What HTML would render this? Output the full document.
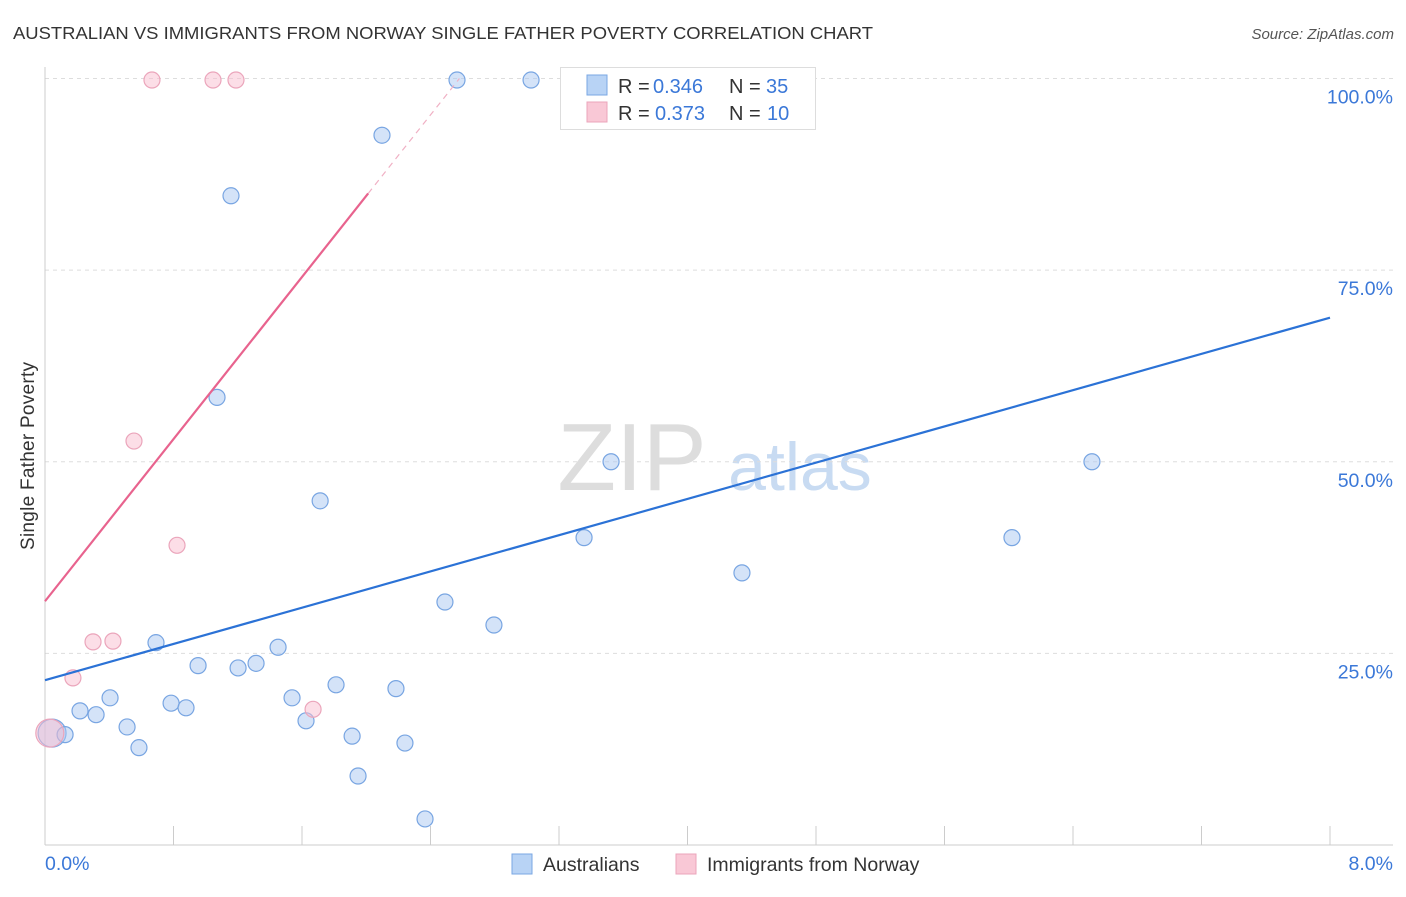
<!DOCTYPE html>
<html><head><meta charset="utf-8"><style>
body{margin:0;background:#fff;font-family:"Liberation Sans",sans-serif;}
svg text{font-family:"Liberation Sans",sans-serif;}
</style></head><body>
<svg id="c" width="1406" height="892" xmlns="http://www.w3.org/2000/svg">
<text x="13" y="39" font-size="17.5" fill="#333" textLength="860" lengthAdjust="spacingAndGlyphs">AUSTRALIAN VS IMMIGRANTS FROM NORWAY SINGLE FATHER POVERTY CORRELATION CHART</text>
<text x="1394" y="39" font-size="15" fill="#555" font-style="italic" text-anchor="end">Source: ZipAtlas.com</text>
<g>
<text x="632" y="490" font-size="96" fill="#ddd" font-family="Liberation Serif" text-anchor="middle">ZIP</text>
<text x="800" y="490" font-size="68" fill="#c8dbf2" text-anchor="middle">atlas</text>
</g>
<g id="grid"></g>
<g id="axes"></g>
<g id="marks"></g>
<g>
<rect x="560.5" y="67.5" width="255" height="62" fill="#fff" stroke="#ddd"/>
<rect x="587" y="75" width="20" height="20" fill="#b8d3f5" stroke="#7aa7e3"/>
<rect x="587" y="102" width="20" height="20" fill="#f9c8d6" stroke="#eba5bb"/>
<text y="93" font-size="20" fill="#333"><tspan x="618">R =</tspan><tspan x="653" fill="#3b78d8">0.346</tspan><tspan x="729">N =</tspan><tspan x="766" fill="#3b78d8">35</tspan></text>
<text y="120" font-size="20" fill="#333"><tspan x="618">R =</tspan><tspan x="655" fill="#3b78d8">0.373</tspan><tspan x="729">N =</tspan><tspan x="767" fill="#3b78d8">10</tspan></text>
</g>
<g>
<rect x="512" y="854" width="20" height="20" fill="#b8d3f5" stroke="#7aa7e3"/>
<text x="543" y="871" font-size="19.5" fill="#333">Australians</text>
<rect x="676" y="854" width="20" height="20" fill="#f9c8d6" stroke="#eba5bb"/>
<text x="707" y="871" font-size="19.5" fill="#333">Immigrants from Norway</text>
</g>
<text transform="translate(34,456) rotate(-90)" font-size="19" fill="#333" text-anchor="middle" textLength="188">Single Father Poverty</text>
</svg>
<script>
const blueX=[0.044,0.125,0.218,0.318,0.405,0.511,0.585,0.691,0.785,0.878,0.953,1.071,1.158,1.202,1.314,1.451,1.538,1.625,1.713,1.812,1.912,1.949,2.098,2.185,2.241,2.366,2.490,2.565,2.795,3.026,3.356,3.524,4.339,6.020,6.518];
const blueY=[14.6,14.4,17.5,17.0,19.2,15.4,12.7,26.4,18.5,17.9,23.4,58.4,84.7,23.1,23.7,25.8,19.2,16.2,44.9,20.9,14.2,9.0,92.6,20.4,13.3,3.4,31.7,99.8,28.7,99.8,40.1,50.0,35.5,40.1,50.0];
const pinkX=[0.03,0.174,0.299,0.423,0.554,0.666,0.822,1.046,1.189,1.669];
const pinkY=[14.6,21.8,26.5,26.6,52.7,99.8,39.1,99.8,99.8,17.7];
const blueLine=[[0,21.5],[8,68.8]];
const pinkLine=[[0,31.8],[2.012,85.0]];
const pinkDash=[[2.012,85.0],[2.58,100]];
const yTicks=[25,50,75,100];
const yTickLabels=["25.0%","50.0%","75.0%","100.0%"];
const xTicks=[0,0.8,1.6,2.4,3.2,4.0,4.8,5.6,6.4,7.2,8.0];
const NS="http://www.w3.org/2000/svg";
const sx=v=>45+v/8*1285;
const sy=v=>845-v/100*766.5;
function mk(tag,attrs,parent){const e=document.createElementNS(NS,tag);for(const k in attrs)e.setAttribute(k,attrs[k]);document.getElementById(parent).appendChild(e);return e;}
yTicks.forEach((t,i)=>{
 const l=mk('line',{x1:45,x2:1393,y1:sy(t),y2:sy(t),stroke:'#ddd','stroke-dasharray':'4,4'},'grid');
 
 
 const tx=mk('text',{x:1393,y:sy(t)+25,'font-size':19.5,fill:'#3b78d8','text-anchor':'end'},'axes');
 tx.textContent=yTickLabels[i];
 
 
});
let a=mk('line',{x1:45,x2:45,y1:67,y2:845,stroke:'#ccc'},'axes');


a=mk('line',{x1:45,x2:1393,y1:845,y2:845,stroke:'#ccc'},'axes');


xTicks.forEach(t=>{
 const l=mk('line',{x1:sx(t),x2:sx(t),y1:826,y2:845,stroke:'#ccc'},'axes');
 
 
});
let t=mk('text',{x:45,y:870,'font-size':19.5,fill:'#3b78d8'},'axes');t.textContent='0.0%';


t=mk('text',{x:1393,y:870,'font-size':19.5,fill:'#3b78d8','text-anchor':'end'},'axes');t.textContent='8.0%';


blueX.forEach((x,i)=>{
 const c=mk('circle',{cx:sx(x),cy:sy(blueY[i]),r:i==0?14:8,fill:'rgba(170,200,242,0.5)',stroke:'#78a5e2','stroke-width':1.2},'marks');
 
 
});
pinkX.forEach((x,i)=>{
 const c=mk('circle',{cx:sx(x),cy:sy(pinkY[i]),r:i==0?14:8,fill:'rgba(249,190,208,0.5)',stroke:'#eba5bb','stroke-width':1.2},'marks');
 
 
});
let l=mk('line',{x1:sx(blueLine[0][0]),y1:sy(blueLine[0][1]),x2:sx(blueLine[1][0]),y2:sy(blueLine[1][1]),stroke:'#2b72d6','stroke-width':2.2},'marks');


l=mk('line',{x1:sx(pinkLine[0][0]),y1:sy(pinkLine[0][1]),x2:sx(pinkLine[1][0]),y2:sy(pinkLine[1][1]),stroke:'#e8638e','stroke-width':2.2},'marks');


l=mk('line',{x1:sx(pinkDash[0][0]),y1:sy(pinkDash[0][1]),x2:sx(pinkDash[1][0]),y2:sy(pinkDash[1][1]),stroke:'#f0b0c4','stroke-width':1.2,'stroke-dasharray':'6,5'},'marks');


</script>
</body></html>
